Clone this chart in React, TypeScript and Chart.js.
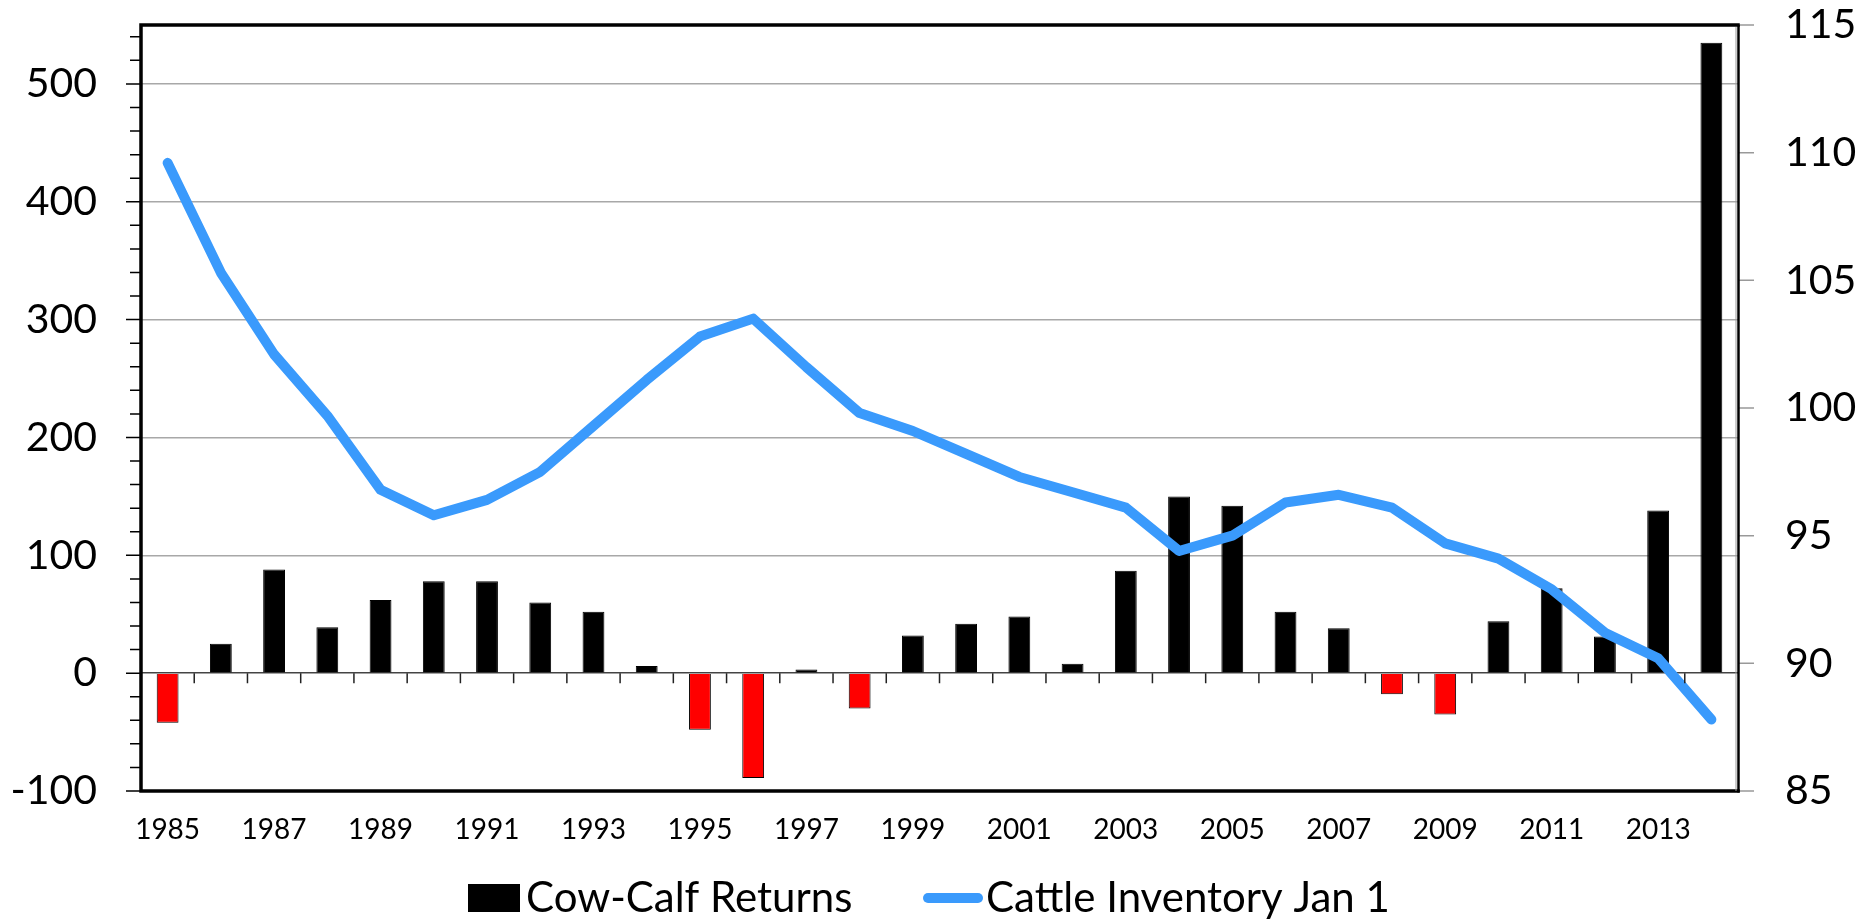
import React, { useEffect, useRef } from 'react';
import { Chart, registerables } from 'chart.js';

Chart.register(...registerables);

const FONT = 'Lato';

const years = [
  '1985', '1986', '1987', '1988', '1989', '1990', '1991', '1992', '1993', '1994',
  '1995', '1996', '1997', '1998', '1999', '2000', '2001', '2002', '2003', '2004',
  '2005', '2006', '2007', '2008', '2009', '2010', '2011', '2012', '2013', '2014',
];

const cowCalfReturns = [
  -42, 25, 88, 39, 62, 78, 78, 60, 52, 6,
  -48, -89, 3, -30, 32, 42, 48, 8, 87, 150,
  142, 52, 38, -18, -35, 44, 72, 31, 138, 535,
];

const cattleInventory = [
  109.6, 105.3, 102.1, 99.7, 96.8, 95.8, 96.4, 97.5, 99.3, 101.1,
  102.8, 103.5, 101.6, 99.8, 99.1, 98.2, 97.3, 96.7, 96.1, 94.4,
  95.0, 96.3, 96.6, 96.1, 94.7, 94.1, 92.9, 91.2, 90.2, 87.8,
];

const leftTicks = [-100, 0, 100, 200, 300, 400, 500];
const leftMinorTicks = [-80, -60, -40, -20, 20, 40, 60, 80, 120, 140, 160, 180, 220, 240, 260, 280, 320, 340, 360, 380, 420, 440, 460, 480, 520, 540];
const rightTicks = [85, 90, 95, 100, 105, 110, 115];

const legendLabels = ['Cow-Calf Returns', 'Cattle Inventory Jan 1'];

const LINE_COLOR = '#3a9afc';
const POS_COLOR = '#000000';
const NEG_COLOR = '#ff0000';

const framePlugin = {
  id: 'framePlugin',
  afterDatasetsDraw(chart: any) {
    const { ctx, chartArea } = chart;
    const { left, right, top, bottom } = chartArea;
    const y = chart.scales.y;
    const y1 = chart.scales.y1;
    const x = chart.scales.x;
    ctx.save();
    const zeroY = y.getPixelForValue(0);
    ctx.strokeStyle = '#222';
    ctx.lineWidth = 1.5;
    ctx.beginPath();
    for (let i = 0; i < years.length - 1; i++) {
      const bx = (x.getPixelForValue(i) + x.getPixelForValue(i + 1)) / 2;
      ctx.moveTo(bx, zeroY);
      ctx.lineTo(bx, zeroY + 10);
    }
    ctx.stroke();
    ctx.strokeStyle = '#000';
    ctx.lineWidth = 1.5;
    ctx.beginPath();
    leftTicks.forEach((v) => {
      const py = y.getPixelForValue(v);
      ctx.moveTo(left - 15, py);
      ctx.lineTo(left, py);
    });
    leftMinorTicks.forEach((v) => {
      const py = y.getPixelForValue(v);
      ctx.moveTo(left - 11, py);
      ctx.lineTo(left, py);
    });
    ctx.stroke();
    ctx.strokeStyle = '#999';
    ctx.lineWidth = 1.5;
    ctx.beginPath();
    rightTicks.forEach((v) => {
      const py = y1.getPixelForValue(v);
      ctx.moveTo(right, py);
      ctx.lineTo(right + 16, py);
    });
    ctx.stroke();
    ctx.strokeStyle = '#000';
    ctx.lineWidth = 3.5;
    ctx.lineCap = 'square';
    ctx.beginPath();
    ctx.moveTo(left, top);
    ctx.lineTo(right, top);
    ctx.moveTo(left, top);
    ctx.lineTo(left, bottom);
    ctx.lineTo(right, bottom);
    ctx.stroke();
    ctx.lineWidth = 2.5;
    ctx.lineCap = 'butt';
    ctx.beginPath();
    ctx.moveTo(right + 0.5, top);
    ctx.lineTo(right + 0.5, bottom + 1.5);
    ctx.stroke();
    ctx.strokeStyle = '#999';
    ctx.lineWidth = 1;
    ctx.beginPath();
    ctx.moveTo(right - 2, top + 2);
    ctx.lineTo(right - 2, bottom);
    ctx.stroke();
    ctx.restore();
  },
  afterDraw(chart: any) {
    const { ctx } = chart;
    ctx.save();
    ctx.fillStyle = '#000';
    ctx.fillRect(468, 884, 52, 28);
    ctx.font = `42px ${FONT}`;
    ctx.textBaseline = 'alphabetic';
    ctx.textAlign = 'left';
    ctx.fillText(legendLabels[0], 526, 912);
    ctx.strokeStyle = LINE_COLOR;
    ctx.lineWidth = 10;
    ctx.lineCap = 'round';
    ctx.beginPath();
    ctx.moveTo(928, 898);
    ctx.lineTo(978, 898);
    ctx.stroke();
    ctx.fillStyle = '#000';
    ctx.fillText(legendLabels[1], 986, 912);
    ctx.restore();
  },
};

export default function App() {
  const ref = useRef<HTMLCanvasElement>(null);
  useEffect(() => {
    document.body.style.margin = '0';
    const chart = new Chart(ref.current as HTMLCanvasElement, {
      type: 'bar',
      data: {
        labels: years,
        datasets: [
          {
            type: 'line',
            label: legendLabels[1],
            data: cattleInventory,
            yAxisID: 'y1',
            borderColor: LINE_COLOR,
            borderWidth: 10,
            borderJoinStyle: 'round',
            borderCapStyle: 'round',
            pointRadius: 0,
            tension: 0,
            fill: false,
            order: 0,
          } as any,
          {
            type: 'bar',
            label: legendLabels[0],
            data: cowCalfReturns,
            yAxisID: 'y',
            backgroundColor: cowCalfReturns.map((v) => (v < 0 ? NEG_COLOR : POS_COLOR)),
            borderColor: '#000',
            borderWidth: 1,
            barPercentage: 0.41,
            categoryPercentage: 1,
            order: 1,
          } as any,
        ],
      },
      options: {
        animation: false,
        responsive: true,
        maintainAspectRatio: false,
        layout: { padding: { top: 25, left: 0, right: 0, bottom: 0 } },
        plugins: { legend: { display: false }, tooltip: { enabled: false } },
        scales: {
          x: {
            grid: { display: false, drawTicks: false },
            border: { display: false },
            ticks: {
              autoSkip: false,
              maxRotation: 0,
              minRotation: 0,
              padding: 22,
              color: '#000',
              font: { family: FONT, size: 28 },
              callback: (_v: any, i: number) => (i % 2 === 0 ? years[i] : ''),
            },
            afterFit: (s: any) => {
              s.height = 129;
              s.paddingLeft = 0;
              s.paddingRight = 0;
            },
          },
          y: {
            position: 'left',
            min: -100,
            max: 550,
            afterBuildTicks: (s: any) => {
              s.ticks = leftTicks.map((v) => ({ value: v }));
            },
            grid: {
              drawTicks: false,
              color: (c: any) => (c.tick && c.tick.value === 0 ? '#444' : '#a8a8a8'),
              lineWidth: 1.5,
            },
            border: { display: false },
            ticks: {
              padding: 44,
              color: '#000',
              font: { family: FONT, size: 41 },
            },
            afterFit: (s: any) => {
              s.width = 141;
              s.paddingTop = 0;
              s.paddingBottom = 0;
            },
          },
          y1: {
            position: 'right',
            min: 85,
            max: 115,
            afterBuildTicks: (s: any) => {
              s.ticks = rightTicks.map((v) => ({ value: v }));
            },
            grid: { display: false, drawTicks: false },
            border: { display: false },
            ticks: {
              padding: 47,
              color: '#000',
              font: { family: FONT, size: 41 },
            },
            afterFit: (s: any) => {
              s.width = 130;
              s.paddingTop = 0;
              s.paddingBottom = 0;
            },
          },
        },
      } as any,
      plugins: [framePlugin],
    });
    return () => chart.destroy();
  }, []);
  return (
    <div style={{ width: 1868, height: 920, position: 'relative', overflow: 'hidden' }}>
      <canvas ref={ref} />
    </div>
  );
}
